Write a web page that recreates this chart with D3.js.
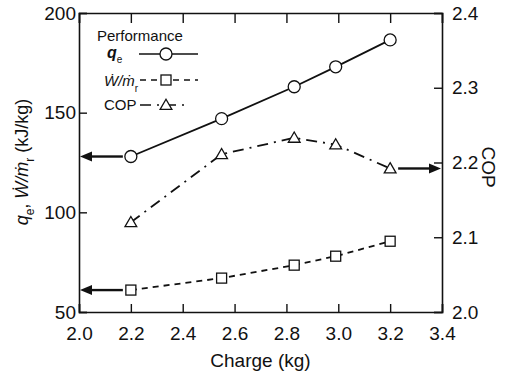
<!DOCTYPE html>
<html>
<head>
<meta charset="utf-8">
<script src="https://cdn.jsdelivr.net/npm/d3@7"></script>
<style>
body { margin: 0; background: #fff; }
svg text { font-family: 'Liberation Sans', Arial, sans-serif; fill: #111; }
</style>
</head>
<body>
<script>
// Donnees
var charge = [2.2, 2.55, 2.83, 2.99, 3.2]
var qe = [128, 147, 163, 173, 186.5]
var work = [61, 67, 73.5, 78, 85.5]
var cop = [2.12, 2.211, 2.233, 2.224, 2.192]

var xTicks = [2.0, 2.2, 2.4, 2.6, 2.8, 3.0, 3.2, 3.4]
var yLeftTicks = [50, 100, 150, 200]
var yRightTicks = [2.0, 2.1, 2.2, 2.3, 2.4]

var width = 510
var height = 376
var margin = { top: 13, right: 68, bottom: 64, left: 79 }

var svg = d3.select('body').append('svg')
    .attr('width', width)
    .attr('height', height)

var x = d3.scaleLinear().domain([2.0, 3.4]).range([margin.left, width - margin.right])
var yL = d3.scaleLinear().domain([50, 200]).range([height - margin.bottom, margin.top])
var yR = d3.scaleLinear().domain([2.0, 2.4]).range([height - margin.bottom, margin.top])

var fmt1 = d3.format('.1f')

// Axes (ticks vers l'interieur)
var axes = [
    { axis: d3.axisBottom(x).tickValues(xTicks).tickFormat(fmt1).tickSize(-8).tickPadding(15), tr: [0, yL.range()[0]] },
    { axis: d3.axisTop(x).tickValues(xTicks).tickFormat('').tickSize(-10), tr: [0, margin.top] },
    { axis: d3.axisLeft(yL).tickValues(yLeftTicks).tickSize(-8).tickPadding(3), tr: [margin.left, 0] },
    { axis: d3.axisRight(yR).tickValues(yRightTicks).tickFormat(fmt1).tickSize(-8).tickPadding(10), tr: [x.range()[1], 0] }
]
axes.forEach(a => {
    var g = svg.append('g').attr('transform', 'translate(' + a.tr + ')').call(a.axis)
    g.attr('font-size', 19).attr('font-family', "'Liberation Sans', Arial, sans-serif")
    g.selectAll('path').attr('stroke', '#111').attr('stroke-width', 1.6)
    g.selectAll('line').attr('stroke', '#111').attr('stroke-width', 1.4)
    g.selectAll('text').attr('fill', '#111')
})

// Titres d'axes
svg.append('text')
    .attr('x', (x.range()[0] + x.range()[1]) / 2)
    .attr('y', 367)
    .attr('text-anchor', 'middle')
    .attr('font-size', 19)
    .text('Charge (kg)')

var yLabel = svg.append('text')
    .attr('transform', 'translate(28,162) rotate(-90)')
    .attr('text-anchor', 'middle')
    .attr('font-size', 18)
yLabel.append('tspan').attr('font-style', 'italic').text('q')
yLabel.append('tspan').attr('font-size', 12).attr('dy', 6).text('e')
yLabel.append('tspan').attr('dy', -6).text(', ')
yLabel.append('tspan').attr('font-style', 'italic').text('Ẇ/ṁ')
yLabel.append('tspan').attr('font-size', 12).attr('dy', 6).text('r')
yLabel.append('tspan').attr('dy', -6).text(' (kJ/kg)')

svg.append('text')
    .attr('transform', 'translate(482,167) rotate(90)')
    .attr('text-anchor', 'middle')
    .attr('font-size', 19)
    .text('COP')

// Series
var series = [
    { values: qe, y: yL, dash: null, marker: 'circle' },
    { values: work, y: yL, dash: '6,5', marker: 'square' },
    { values: cop, y: yR, dash: '11,6,2,6', marker: 'triangle' }
]

function drawMarker(g, type, cx, cy) {
    if (type === 'circle') {
        g.append('circle').attr('cx', cx).attr('cy', cy).attr('r', 6)
    } else if (type === 'square') {
        g.append('rect').attr('x', cx - 5).attr('y', cy - 5).attr('width', 10).attr('height', 10)
    } else {
        g.append('path').attr('d', d3.symbol(d3.symbolTriangle, 60)()).attr('transform', 'translate(' + cx + ',' + (cy + 1) + ')')
    }
}

series.forEach(s => {
    var pts = charge.map((c, i) => [x(c), s.y(s.values[i])])
    svg.append('path')
        .attr('d', d3.line()(pts))
        .attr('fill', 'none')
        .attr('stroke', '#111')
        .attr('stroke-width', 1.8)
        .attr('stroke-dasharray', s.dash)
    var mg = svg.append('g').attr('fill', 'white').attr('stroke', '#111').attr('stroke-width', 1.3)
    pts.forEach(p => drawMarker(mg, s.marker, p[0], p[1]))
})

// Fleches (tete dessinee a la main)
var arrows = [
    { from: x(charge[0]) - 8, to: x.range()[0] + 1, y: yL(qe[0]) },
    { from: x(charge[0]) - 8, to: x.range()[0] + 1, y: yL(work[0]) },
    { from: x(charge[4]) + 8, to: x.range()[1] - 1, y: yR(cop[4]) }
]
arrows.forEach(a => {
    var dir = a.to < a.from ? -1 : 1
    var base = a.to - dir * 12
    svg.append('line')
        .attr('x1', a.from).attr('y1', a.y).attr('x2', base).attr('y2', a.y)
        .attr('stroke', '#111').attr('stroke-width', 2.4)
    svg.append('path')
        .attr('d', d3.line()([[a.to, a.y], [base, a.y - 5], [base, a.y + 5]]) + 'Z')
        .attr('fill', '#111')
})

// Legende
var legend = svg.append('g')
legend.append('text').attr('x', 97).attr('y', 41).attr('font-size', 15).text('Performance')

var lq = legend.append('text').attr('x', 107).attr('y', 58).attr('font-size', 16)
lq.append('tspan').attr('font-style', 'italic').attr('font-weight', 'bold').text('q')
lq.append('tspan').attr('font-size', 10).attr('dy', 5).text('e')

var lw = legend.append('text').attr('x', 104).attr('y', 86).attr('font-size', 15)
lw.append('tspan').attr('font-style', 'italic').text('Ẇ/ṁ')
lw.append('tspan').attr('font-size', 10).attr('dy', 6).text('r')

legend.append('text').attr('x', 104).attr('y', 110).attr('font-size', 15).text('COP')

var legRows = [
    { y: 54, x1: 139, x2: 198, dash: null, marker: 'circle' },
    { y: 80, x1: 140, x2: 198, dash: '6,5', marker: 'square' },
    { y: 105, x1: 140, x2: 190, dash: '11,6,2,6', marker: 'triangle' }
]
legRows.forEach(r => {
    legend.append('line')
        .attr('x1', r.x1).attr('x2', r.x2).attr('y1', r.y).attr('y2', r.y)
        .attr('stroke', '#111').attr('stroke-width', 1.6)
        .attr('stroke-dasharray', r.dash)
    var mg = legend.append('g').attr('fill', 'white').attr('stroke', '#111').attr('stroke-width', 1.3)
    drawMarker(mg, r.marker, 166, r.y)
})
</script>
</body>
</html>
